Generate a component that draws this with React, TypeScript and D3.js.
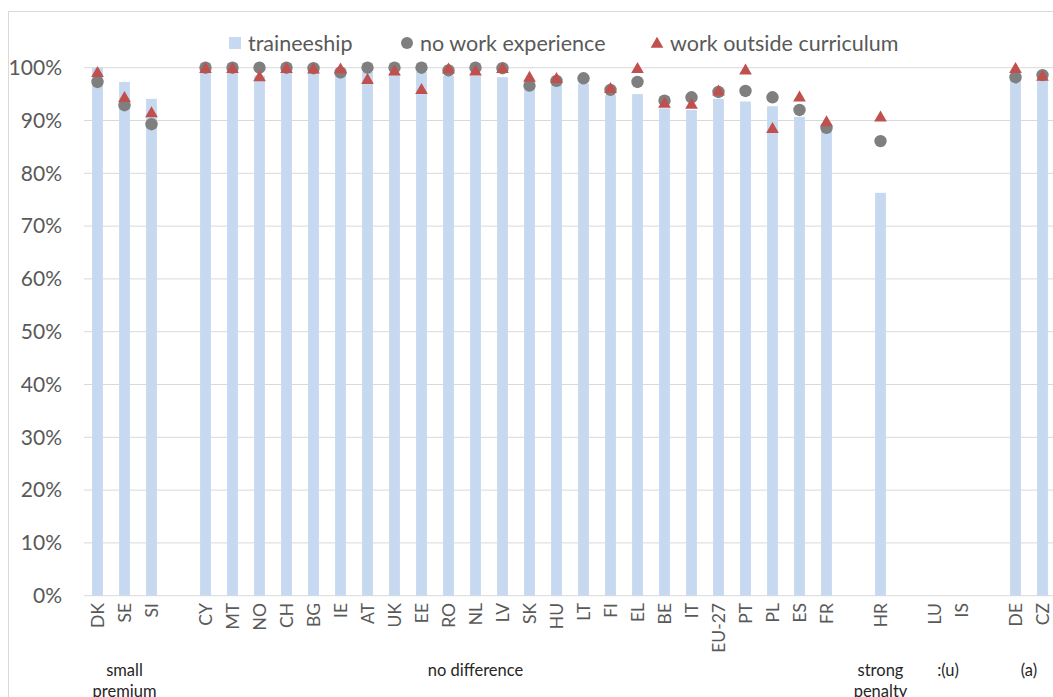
import React from "react";
import * as d3 from "d3";

const categories = ["DK","SE","SI","gap1","CY","MT","NO","CH","BG","IE","AT","UK","EE","RO","NL","LV","SK","HU","LT","FI","EL","BE","IT","EU-27","PT","PL","ES","FR","gap2","HR","gap3","LU","IS","gap4","DE","CZ"];

const traineeship: (number | null)[] = [100,97.3,94.1,null,100,100,98.5,100,100,99.2,99.2,98.8,99.2,98.5,98.5,98.2,96.5,97.0,97.0,94.8,95.0,92.3,92.0,94.1,93.6,92.7,90.7,88.2,null,76.3,null,null,null,null,98.0,97.7];
const noWorkExperience: (number | null)[] = [97.3,92.9,89.3,null,100,100,100,100,99.9,99.1,100,100,100,99.5,100,99.9,96.6,97.5,98.0,95.8,97.3,93.75,94.4,95.4,95.6,94.4,92.0,88.6,null,86.1,null,null,null,null,98.2,98.6];
const workOutsideCurriculum: (number | null)[] = [99.1,94.4,91.5,null,99.9,99.9,98.3,99.9,99.8,99.8,97.8,99.4,95.9,99.8,99.4,99.9,98.2,98.0,null,96.1,99.9,93.3,93.1,95.6,99.6,88.5,94.5,89.8,null,90.7,null,null,null,null,99.9,98.4];

const yTicks = [0,10,20,30,40,50,60,70,80,90,100];

const groups = [
  { lines: ["small", "premium"], from: "DK", to: "SI" },
  { lines: ["no difference"], from: "AT", to: "LT" },
  { lines: ["strong", "penalty"], from: "HR", to: "HR" },
  { lines: [":(u)"], from: "LU", to: "IS" },
  { lines: ["(a)"], from: "DE", to: "CZ" },
];

const legendItems = [
  { label: "traineeship", kind: "bar" },
  { label: "no work experience", kind: "circle" },
  { label: "work outside curriculum", kind: "triangle" },
];

const COLORS = { bar: "#c6d9f0", circle: "#7f7f7f", triangle: "#c0504d" };
const FONT = "Lato, 'Open Sans', sans-serif";

export default function App() {
  const W = 1053, H = 697;
  const x = d3.scaleBand<string>().domain(categories).range([84, 1056]).paddingInner(0.6).paddingOuter(0.3);
  const y = d3.scaleLinear().domain([0, 100]).range([595.7, 67.7]);
  const cx = (c: string) => (x(c) as number) + x.bandwidth() / 2;
  const tri = d3.symbol().type(d3.symbolTriangle).size(70)();
  const legendX = [229, 401, 651];

  return (
    <svg width={W} height={H} style={{ position: "absolute", left: 0, top: 0, background: "#fff" }} fontFamily={FONT}>
      <rect x={8.5} y={11.5} width={W + 10} height={H + 10} fill="#fff" stroke="#d9d9d9" strokeWidth={1} />
      {yTicks.map((t) => (
        <g key={t}>
          <line x1={84} x2={W} y1={y(t)} y2={y(t)} stroke="#d9d9d9" strokeWidth={1} />
          <text x={62} y={y(t)} dy="0.35em" textAnchor="end" fontSize={21} fill="#595959">{t}%</text>
        </g>
      ))}
      {categories.map((c, i) =>
        traineeship[i] == null ? null : (
          <rect key={"b" + c} x={x(c)} y={y(traineeship[i] as number)} width={x.bandwidth()} height={y(0) - y(traineeship[i] as number)} fill={COLORS.bar} />
        )
      )}
      {categories.map((c, i) =>
        noWorkExperience[i] == null ? null : (
          <circle key={"c" + c} cx={cx(c)} cy={y(noWorkExperience[i] as number)} r={6.2} fill={COLORS.circle} />
        )
      )}
      {categories.map((c, i) =>
        workOutsideCurriculum[i] == null ? null : (
          <path key={"t" + c} d={tri as string} transform={`translate(${cx(c)},${y(workOutsideCurriculum[i] as number) + 1})`} fill={COLORS.triangle} />
        )
      )}
      {categories.filter((c) => !c.startsWith("gap")).map((c) => (
        <text key={"l" + c} transform={`translate(${cx(c)},603) rotate(-90)`} textAnchor="end" dy="0.35em" fontSize={17.5} fill="#595959">{c}</text>
      ))}
      {groups.map((g) => {
        const gx = (cx(g.from) + cx(g.to)) / 2;
        return (
          <text key={g.lines[0]} x={gx} y={676} textAnchor="middle" fontSize={16.5} fill="#262626">
            {g.lines.map((ln, j) => (
              <tspan key={j} x={gx} dy={j === 0 ? 0 : 21}>{ln}</tspan>
            ))}
          </text>
        );
      })}
      {legendItems.map((it, i) => (
        <g key={it.label} transform={`translate(${legendX[i]},43)`}>
          {it.kind === "bar" && <rect x={0} y={-6} width={12} height={12} fill={COLORS.bar} />}
          {it.kind === "circle" && <circle cx={6} cy={0} r={6} fill={COLORS.circle} />}
          {it.kind === "triangle" && <path d={tri as string} transform="translate(6,1)" fill={COLORS.triangle} />}
          <text x={19} y={0} dy="0.35em" fontSize={21.5} fill="#595959">{it.label}</text>
        </g>
      ))}
    </svg>
  );
}
